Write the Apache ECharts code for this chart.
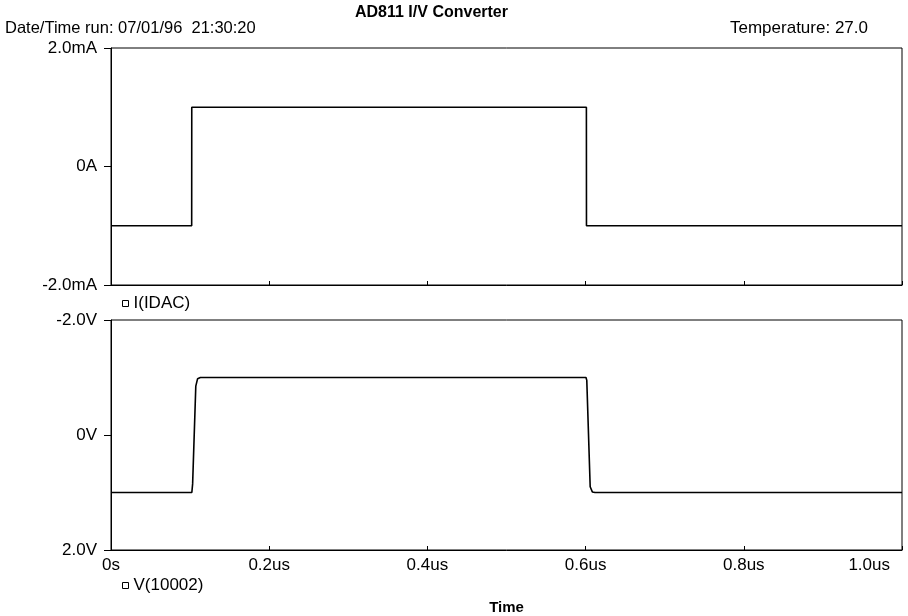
<!DOCTYPE html>
<html>
<head>
<meta charset="utf-8">
<script src="https://cdn.jsdelivr.net/npm/echarts@6/dist/echarts.min.js"></script>
<style>html,body{margin:0;padding:0;background:#fff;}#c{width:908px;height:616px;}</style>
</head>
<body>
<div id="c"></div>
<script>
// Time in microseconds
var currentTime = [0, 0.102, 0.1021, 0.601, 0.6011, 1.0];
var currentMA   = [-1, -1, 1, 1, -1, -1];
var voltageTime = [0, 0.1022, 0.1025, 0.1032, 0.1072, 0.1095, 0.113, 0.6005, 0.6015, 0.6058, 0.6085, 0.612, 1.0];
var voltageV    = [1, 1, 1.03, 0.85, -0.85, -0.98, -1.0, -1.0, -0.95, 0.9, 0.99, 1.0, 1.0];
var timeTicks = { 0: '0s', 0.2: '0.2us', 0.4: '0.4us', 0.6: '0.6us', 0.8: '0.8us', 1: '1.0us' };
var currentTicks = { '-2': '-2.0mA', '0': '0A', '2': '2.0mA' };
var voltageTicks = { '-2': '-2.0V', '0': '0V', '2': '2.0V' };

function pairs(xs, ys) { return xs.map(function (x, i) { return [x, ys[i]]; }); }

var font = 'Liberation Sans, Arial, sans-serif';
var FS = 17;
var txt = { color: '#000', fontFamily: font, fontSize: FS };
var chart = echarts.init(document.getElementById('c'), null, { renderer: 'canvas' });

function xAxis(idx, labels) {
  return {
    type: 'value', gridIndex: idx, min: 0, max: 1, interval: 0.2,
    axisLine: { show: true, onZero: false, lineStyle: { color: '#000', width: 1 } },
    axisTick: { show: true, inside: true, length: 4, lineStyle: { color: '#000' } },
    splitLine: { show: false },
    axisLabel: labels ? {
      show: true, color: '#000', fontFamily: font, fontSize: FS, margin: 7,
      alignMaxLabel: 'right',
      formatter: function (v) {
        var k = Math.round(v * 10) / 10;
        return k === 1 ? '{r|' + timeTicks[k] + '}' : timeTicks[k];
      },
      rich: { r: { color: '#000', fontFamily: font, fontSize: FS, padding: [0, 12, 0, 0] } }
    } : { show: false },
    name: labels ? 'Time' : '', nameLocation: 'middle', nameGap: 50,
    nameTextStyle: { color: '#000', fontFamily: font, fontSize: 15, fontWeight: 'bold' }
  };
}
function yAxis(idx, labels, inverse) {
  return {
    type: 'value', gridIndex: idx, min: -2, max: 2, interval: 2, inverse: inverse,
    axisLine: { show: true, onZero: false, lineStyle: { color: '#000', width: 1 } },
    axisTick: { show: true, length: 7, lineStyle: { color: '#000' } },
    splitLine: { show: false },
    axisLabel: { color: '#000', fontFamily: font, fontSize: FS, margin: 14,
      formatter: function (v) { return labels[String(Math.round(v))]; } }
  };
}

chart.setOption({
  backgroundColor: '#fff',
  animation: false,
  title: [
    { text: 'AD811 I/V Converter', left: 350, top: 0,
      textStyle: { color: '#000', fontFamily: font, fontSize: 16, fontWeight: 'bold' } },
    { text: 'Date/Time run: 07/01/96  21:30:20', left: 0, top: 15,
      textStyle: { color: '#000', fontFamily: font, fontSize: 16.5, fontWeight: 'normal' } },
    { text: 'Temperature: 27.0', left: 725, top: 15,
      textStyle: { color: '#000', fontFamily: font, fontSize: FS, fontWeight: 'normal' } }
  ],
  grid: [
    { left: 111, top: 48, width: 791, height: 237, show: true, borderColor: '#000', borderWidth: 1 },
    { left: 111, top: 320, width: 791, height: 233, show: true, borderColor: '#000', borderWidth: 1 }
  ],
  legend: [
    { data: ['I(IDAC)'], left: 117, top: 290, icon: 'rect', itemWidth: 6, itemHeight: 6, itemGap: 4,
      textStyle: txt, itemStyle: { color: '#fff', borderColor: '#000', borderWidth: 1 } },
    { data: ['V(10002)'], left: 117, top: 572, icon: 'rect', itemWidth: 6, itemHeight: 6, itemGap: 4,
      textStyle: txt, itemStyle: { color: '#fff', borderColor: '#000', borderWidth: 1 } }
  ],
  xAxis: [xAxis(0, false), xAxis(1, true)],
  yAxis: [yAxis(0, currentTicks, false), yAxis(1, voltageTicks, true)],
  series: [
    { name: 'I(IDAC)', type: 'line', xAxisIndex: 0, yAxisIndex: 0, data: pairs(currentTime, currentMA),
      showSymbol: false, symbol: 'none', lineStyle: { color: '#000', width: 1.6 }, itemStyle: { color: '#000' } },
    { name: 'V(10002)', type: 'line', xAxisIndex: 1, yAxisIndex: 1, data: pairs(voltageTime, voltageV),
      showSymbol: false, symbol: 'none', smooth: false, lineStyle: { color: '#000', width: 1.6 }, itemStyle: { color: '#000' } }
  ]
});
</script>
</body>
</html>
